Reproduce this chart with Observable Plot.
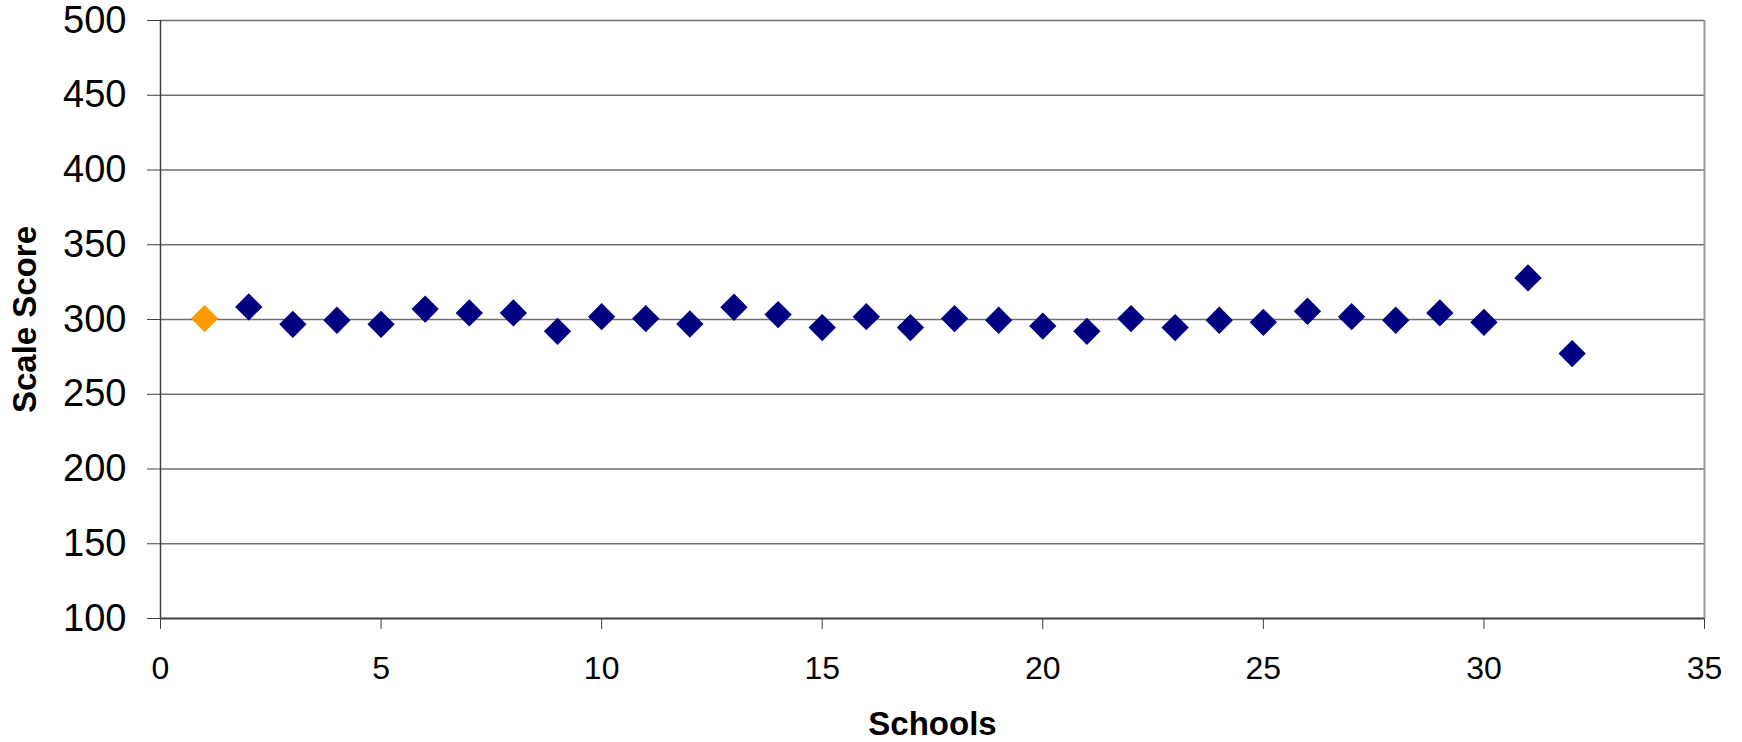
<!DOCTYPE html>
<html>
<head>
<meta charset="utf-8">
<script src="https://cdn.jsdelivr.net/npm/d3@7"></script>
<script src="https://cdn.jsdelivr.net/npm/@observablehq/plot@0.6"></script>
<style>
  html, body { margin: 0; padding: 0; background: #fff; }
  #chart svg { display: block; }
</style>
</head>
<body>
<div id="chart"></div>
<script>
// ---- data ----
const schools = [1, 2, 3, 4, 5, 6, 7, 8, 9, 10, 11, 12, 13, 14, 15, 16,
                 17, 18, 19, 20, 21, 22, 23, 24, 25, 26, 27, 28, 29, 30, 31, 32];
const scores = [300.6, 308.4, 296.8, 299.5, 296.8, 307.0, 304.4, 304.4,
                292.1, 301.9, 300.6, 297.0, 308.2, 303.3, 294.6, 301.9,
                294.6, 300.6, 299.5, 295.6, 292.1, 300.6, 294.6, 299.5,
                298.1, 305.5, 301.9, 299.5, 304.4, 298.1, 327.8, 277.2];
const highlightSchool = 1;
const xTicks = [0, 5, 10, 15, 20, 25, 30, 35];
const yTicks = [100, 150, 200, 250, 300, 350, 400, 450, 500];
const xTitle = "Schools";
const yTitle = "Scale Score";

const data = schools.map((s, i) => ({school: s, score: scores[i]}));

const font = "Arial, 'Liberation Sans', sans-serif";

const chart = Plot.plot({
  width: 1742,
  height: 742,
  marginLeft: 160,
  marginRight: 38,
  marginTop: 20,
  marginBottom: 124,
  style: {fontFamily: font, background: "#fff", color: "#000"},
  x: {domain: [0, 35], ticks: xTicks},
  y: {domain: [100, 500], ticks: yTicks},
  marks: [
    Plot.ruleY(yTicks.filter(t => t > 100), {stroke: "#707070", strokeWidth: 1.4}),
    Plot.ruleX([35], {stroke: "#999", strokeWidth: 2}),
    Plot.axisY({ticks: yTicks, tickSize: 13, tickPadding: 21, fontSize: 38,
                stroke: "#404040", fill: "#000", label: null}),
    Plot.axisX({ticks: xTicks, tickSize: 11, tickPadding: 27, fontSize: 32,
                stroke: "#404040", fill: "#000", label: null}),
    Plot.ruleX([0], {stroke: "#404040", strokeWidth: 1.5}),
    Plot.ruleY([100], {stroke: "#404040", strokeWidth: 2}),
    Plot.dot(data.filter(d => d.school !== highlightSchool),
             {x: "school", y: "score", symbol: "diamond2", r: 12.3, fill: "#000080", stroke: null}),
    Plot.dot(data.filter(d => d.school === highlightSchool),
             {x: "school", y: "score", symbol: "diamond2", r: 12.3, fill: "#FF9900", stroke: null}),
    Plot.text([yTitle], {frameAnchor: "left", textAnchor: "middle", rotate: -90, dx: -135,
                         fontSize: 33, fontWeight: "bold", fill: "#000"}),
    Plot.text([xTitle], {frameAnchor: "bottom", textAnchor: "middle", dy: 116, fontSize: 33,
                         fontWeight: "bold", fill: "#000"})
  ]
});
document.getElementById("chart").appendChild(chart);
</script>
</body>
</html>
